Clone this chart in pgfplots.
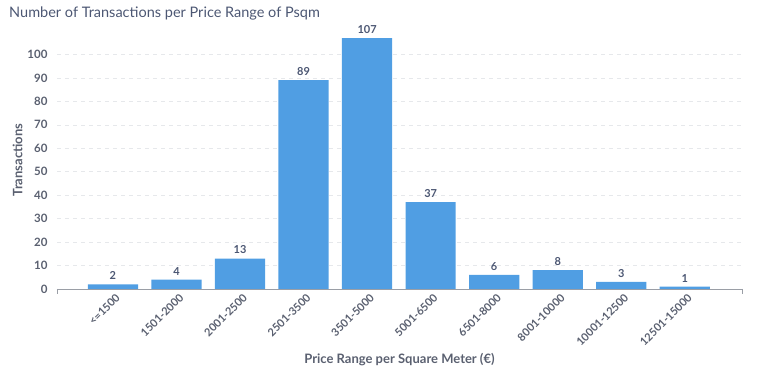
\documentclass[border=0pt]{standalone}
\usepackage{pgfplots}
\pgfplotsset{compat=1.18}
\usepackage{fontspec}
\setmainfont{Lato}
\definecolor{barblue}{HTML}{509EE3}
\definecolor{txt}{HTML}{4C5773}
\definecolor{tick}{HTML}{5A6070}
\definecolor{gridc}{HTML}{E6E8EB}
\definecolor{axisc}{HTML}{9A9EA6}
\begin{document}
\begin{tikzpicture}
\useasboundingbox (0,0) rectangle (764pt,374pt);
\node[anchor=north west, text=txt, font=\fontsize{14.5}{16}\selectfont, inner sep=0pt] at (9pt,367pt) {Number of Transactions per Price Range of Psqm};
\begin{axis}[
  at={(57pt,85pt)}, anchor=south west,
  scale only axis, width=685pt, height=258pt,
  ymin=0, ymax=110,
  xmin=-0.88, xmax=9.9,
  ybar, bar width=0.79,
  bar shift=0pt,
  ytick={0,10,...,100},
  xtick={0,...,9},
  xticklabels={{<=1500},{1501-2000},{2001-2500},{2501-3500},{3501-5000},{5001-6500},{6501-8000},{8001-10000},{10001-12500},{12501-15000}},
  xticklabel style={rotate=45, anchor=north east, font=\fontsize{11}{12}\selectfont\bfseries, text=tick, inner sep=1pt, yshift=-3pt},
  yticklabel style={font=\fontsize{11.5}{12}\selectfont\bfseries, text=tick, xshift=-6pt},
  /pgf/number format/assume math mode=true,
  ymajorgrids, grid style={gridc, dash pattern=on 4pt off 4pt, line width=0.6pt},
  axis x line*=bottom, axis y line*=left,
  x axis line style={axisc, line width=0.6pt, -},
  y axis line style={draw=none},
  major tick length=0pt,
  tick style={draw=none},
  ylabel={Transactions}, ylabel style={font=\fontsize{13}{14}\selectfont\bfseries, text=tick, yshift=-2pt},
  xlabel={Price Range per Square Meter (€)}, xlabel style={font=\fontsize{13}{14}\selectfont\bfseries, text=tick, yshift=-2pt},
  nodes near coords,
  every node near coord/.append style={font=\fontsize{11}{12}\selectfont\bfseries, text=txt, yshift=1pt},
  clip=false,
]
\addplot[fill=barblue, draw=none] coordinates {(0,2) (1,4) (2,13) (3,89) (4,107) (5,37) (6,6) (7,8) (8,3) (9,1)};
\draw[axisc, line width=0.6pt] (axis cs:-0.88,0) -- ([yshift=-5pt]axis cs:-0.88,0);
\draw[axisc, line width=0.6pt] (axis cs:9.9,0) -- ([yshift=-5pt]axis cs:9.9,0);
\end{axis}
\end{tikzpicture}
\end{document}
